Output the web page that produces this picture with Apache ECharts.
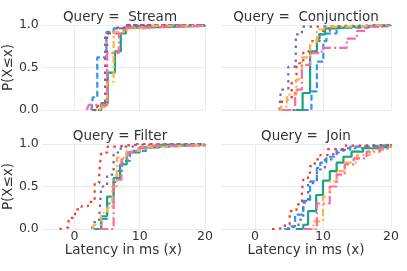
<!DOCTYPE html>
<html>
<head>
<meta charset="utf-8">
<script src="https://cdn.jsdelivr.net/npm/echarts@6/dist/echarts.min.js"></script>
<style>html,body{margin:0;padding:0;background:#fff}#c{width:407px;height:271px}</style>
</head>
<body>
<div id="c"></div>
<script>
// Panel titles
const panelTitles = ['Query =  Stream', 'Query =  Conjunction', 'Query = Filter', 'Query =  Join'];
const xTicks = [0, 10, 20];
const yTicks = [0, 0.5, 1];

// ECDF points [latency ms, P(X<=x)] per panel and series
const streamBlue   = [[2.6,0],[2.8,0.15],[3.5,0.62],[4.9,0.92],[6,0.96],[8,0.99],[12,1],[20,1]];
const streamPurple = [[2.7,0],[3.5,0.05],[4.7,0.9],[6,0.96],[7.5,1],[20,1]];
const streamRed    = [[3,0],[3.4,0.05],[5,0.9],[6.5,0.97],[8,1],[20,1]];
const streamGreen  = [[3.6,0],[4.1,0.08],[5.1,0.44],[6.2,0.69],[7.1,0.9],[7.9,0.97],[10,0.99],[20,1]];
const streamOrange = [[3.8,0],[4.1,0.03],[5.0,0.33],[6.0,0.92],[8,0.96],[12,0.99],[20,1]];
const streamPink   = [[1.9,0],[2.2,0.06],[5.0,0.67],[6.8,0.9],[7.6,0.97],[10,0.99],[20,1]];

const conjBlue   = [[7,0],[8.3,0.22],[9.1,0.57],[10.05,0.81],[10.5,0.9],[12,0.97],[16,0.99],[20,1]];
const conjPurple = [[3.6,0],[3.8,0.24],[4.9,0.51],[6.0,0.89],[6.9,0.98],[8,1],[20,1]];
const conjRed    = [[3.8,0],[4.0,0.12],[5.4,0.34],[6.1,0.55],[7.1,0.69],[8.1,0.81],[9.5,0.93],[11,0.98],[14,1],[20,1]];
const conjGreen  = [[5.5,0],[7.0,0.2],[8.1,0.69],[9.1,0.84],[9.5,0.89],[10.3,0.96],[12,0.98],[15,1],[20,1]];
const conjOrange = [[3.5,0],[3.8,0.04],[4.7,0.18],[6.1,0.36],[6.9,0.62],[8.1,0.8],[9.1,0.95],[10.5,0.98],[14,1],[20,1]];
const conjPink   = [[4.0,0],[5.9,0.24],[6.9,0.53],[8.1,0.67],[9.8,0.73],[13.5,0.84],[15,0.93],[16.4,0.98],[19,1],[20,1]];

const filterBlue   = [[3.0,0],[4.1,0.12],[5.0,0.3],[6.0,0.55],[6.5,0.68],[7.3,0.8],[8.5,0.92],[11,0.97],[15,0.99],[20,1]];
const filterPurple = [[2.7,0],[2.9,0.08],[3.8,0.13],[4.1,0.5],[5.0,0.64],[6.0,0.9],[7.1,0.97],[9,1],[20,1]];
const filterRed    = [[-2.3,0],[-2.1,0.02],[-0.9,0.13],[0.1,0.23],[1.1,0.27],[2.1,0.32],[3.1,0.54],[3.8,0.66],[4.1,0.9],[5.1,0.97],[6.5,0.99],[9,1],[20,1]];
const filterGreen  = [[3.5,0],[4.1,0.15],[5.0,0.38],[6.0,0.6],[7.0,0.76],[8.0,0.9],[10,0.96],[13,0.99],[20,1]];
const filterOrange = [[2.8,0],[3.0,0.05],[4.1,0.19],[5.0,0.25],[5.8,0.5],[6.5,0.84],[8.0,0.92],[10,0.97],[14,0.99],[20,1]];
const filterPink   = [[3.8,0],[6.0,0.58],[7.2,0.82],[8.2,0.9],[9.5,0.95],[12,0.98],[20,1]];

const joinBlue   = [[4.3,0],[4.9,0.03],[5.9,0.17],[7.1,0.33],[8.1,0.56],[9.1,0.72],[9.6,0.78],[10.5,0.85],[12,0.93],[14,0.97],[17,0.99],[20,1]];
const joinPurple = [[4.8,0],[5.7,0.03],[6.4,0.11],[7.1,0.31],[7.8,0.54],[9.1,0.7],[10.3,0.82],[11.5,0.9],[13,0.95],[16,0.98],[20,1]];
const joinRed    = [[2.5,0],[2.9,0.01],[4.4,0.05],[5.1,0.21],[6.1,0.29],[6.9,0.44],[7.1,0.58],[7.8,0.66],[8.1,0.74],[8.8,0.82],[9.6,0.87],[10.7,0.94],[12.9,0.98],[16,0.99],[20,1]];
const joinGreen  = [[6.0,0],[7.1,0.05],[7.8,0.21],[9.0,0.4],[10.0,0.57],[11.0,0.68],[12.0,0.78],[13.0,0.85],[14.2,0.91],[15.9,0.95],[17.9,0.97],[20,0.99]];
const joinOrange = [[7.5,0],[8.6,0.09],[10,0.38],[11,0.56],[12,0.68],[13.2,0.78],[15,0.87],[16.9,0.93],[19.4,0.97],[20,0.98]];
const joinPink   = [[7,0],[9.1,0.3],[11,0.5],[12,0.64],[13.2,0.76],[14.5,0.83],[16.4,0.91],[18.4,0.95],[20,0.97]];

const panels = [
  [streamBlue, streamPurple, streamRed, streamGreen, streamOrange, streamPink],
  [conjBlue, conjPurple, conjRed, conjGreen, conjOrange, conjPink],
  [filterBlue, filterPurple, filterRed, filterGreen, filterOrange, filterPink],
  [joinBlue, joinPurple, joinRed, joinGreen, joinOrange, joinPink]
];

const styles = [
  {color:'#2e96f5', type:[6,3]},
  {color:'#7467b0', type:[2.5,4.5]},
  {color:'#f03c2d', type:[2.5,4.5]},
  {color:'#17a57a', type:'solid'},
  {color:'#ffb347', type:[7,3,2,3]},
  {color:'#ff6a9f', type:[9,3,2,3]}
];

const textColor = '#333';
const font = 'DejaVu Sans';
const gridPos = [
  {left:35, top:25, width:170, height:85},
  {left:221, top:25, width:170, height:85},
  {left:35, top:144, width:170, height:85},
  {left:221, top:144, width:170, height:85}
];

const grids = [], xAxes = [], yAxes = [], series = [], graphics = [];
gridPos.forEach((g, i) => {
  grids.push(Object.assign({containLabel:false}, g));
  const bottomRow = i >= 2, leftCol = i % 2 === 0;
  xAxes.push({
    type:'value', gridIndex:i, min:-5, max:20, interval:5,
    axisLine:{show:false}, axisTick:{show:false},
    splitLine:{show:true, lineStyle:{color:['rgba(0,0,0,0)','#ebebeb'], width:1}},
    axisLabel:{show:bottomRow, margin:1, color:textColor, fontFamily:font, fontSize:12.5,
      formatter:v => xTicks.indexOf(v) >= 0 ? String(v) : ''},
    name: bottomRow ? 'Latency in ms (x)' : '', nameLocation:'middle', nameGap:13,
    nameTextStyle:{color:textColor, fontFamily:font, fontSize:13.5}
  });
  yAxes.push({
    type:'value', gridIndex:i, min:0, max:1, interval:0.5,
    axisLine:{show:false}, axisTick:{show:false},
    splitLine:{show:true, lineStyle:{color:'#ebebeb', width:1}},
    axisLabel:{show:leftCol, margin:3, color:textColor, fontFamily:font, fontSize:12.5,
      formatter:v => yTicks.indexOf(v) >= 0 ? v.toFixed(1) : ''},
    name: leftCol ? 'P(X≤x)' : '', nameLocation:'middle', nameGap:22,
    nameTextStyle:{color:textColor, fontFamily:font, fontSize:13.5}
  });
  panels[i].forEach((d, k) => {
    series.push({
      type:'line', xAxisIndex:i, yAxisIndex:i, data:d, step:'end',
      showSymbol:false, symbol:'none', silent:true,
      lineStyle:{color:styles[k].color, type:styles[k].type, width:2.2, cap:'butt'}
    });
  });
  graphics.push({
    type:'text', x:g.left + g.width/2, y: i < 2 ? 17 : 136,
    style:{text:panelTitles[i], fill:textColor, font:'13.5px "DejaVu Sans"', textAlign:'center', textVerticalAlign:'middle'}
  });
});

const chart = echarts.init(document.getElementById('c'), null, {renderer:'canvas'});
chart.setOption({
  animation:false,
  backgroundColor:'#fff',
  grid:grids, xAxis:xAxes, yAxis:yAxes, series:series, graphic:graphics
});
</script>
</body>
</html>
